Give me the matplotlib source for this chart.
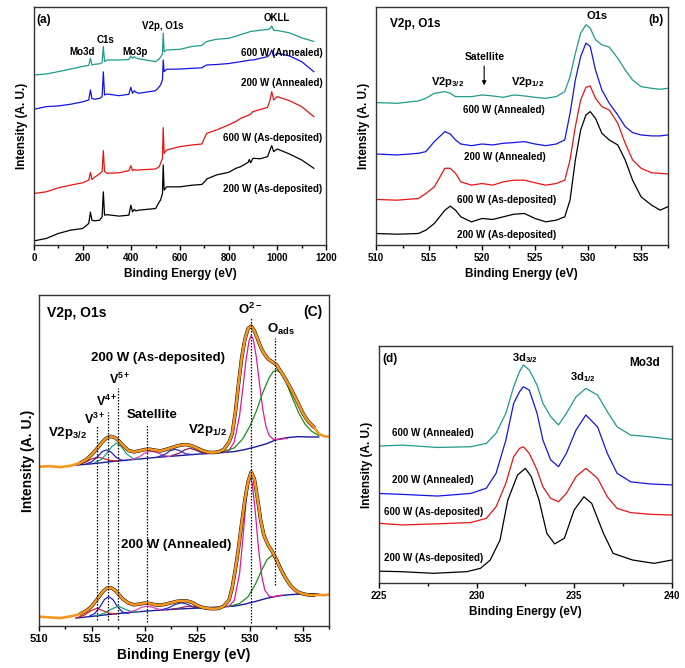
import matplotlib
matplotlib.use('Agg')
import matplotlib.pyplot as plt
from matplotlib.ticker import MultipleLocator
import numpy as np

plt.rcParams['font.family'] = ['Liberation Sans', 'DejaVu Sans']
plt.rcParams['font.weight'] = 'bold'
plt.rcParams['axes.labelweight'] = 'bold'
plt.rcParams['mathtext.fontset'] = 'custom'
plt.rcParams['mathtext.rm'] = 'Liberation Sans:bold'
plt.rcParams['mathtext.it'] = 'Liberation Sans:bold'
plt.rcParams['mathtext.bf'] = 'Liberation Sans:bold'

TEAL = '#1f9a8c'
BLUE = '#1414e6'
RED = '#e61414'
BLACK = '#000000'

# ---- (a) survey spectra (intensity in arbitrary units, 0-100 frame)
survey_ev = [0, 50, 100, 150, 200, 225, 232, 238, 250, 270, 280, 285, 290, 300, 350, 390, 398, 405, 412, 418,
             430, 500, 515, 520, 528, 531, 535, 545, 600, 650, 690, 700, 710, 750, 800, 830, 850, 880, 885, 890,
             900, 930, 960, 970, 977, 985, 1000, 1050, 1100, 1150]
survey_200_asdep = [1.8, 2.8, 4.9, 6.3, 7.0, 9.1, 13.9, 10.5, 10.2, 10.5, 11.9, 22.4, 12.6, 12.8, 12.2, 12.6, 16.8, 14.0, 15.0, 14.4,
                    14.7, 15.4, 18.2, 18.9, 21.7, 33.7, 23.1, 24.5, 24.5, 25.2, 25.5, 26.5, 27.8, 29.5, 30.6, 32.3, 33.0, 34.8, 36.0, 34.6,
                    36.5, 36.3, 37.2, 40.0, 41.8, 39.3, 40.4, 38.3, 35.8, 32.3]
survey_600_asdep = [21.7, 22.4, 24.1, 25.2, 26.2, 27.3, 30.6, 27.6, 28.6, 30.0, 30.9, 39.7, 30.9, 30.2, 30.4, 31.3, 33.4, 31.3, 31.8, 31.5,
                    31.6, 32.0, 33.0, 34.4, 36.5, 49.4, 38.6, 40.0, 41.4, 42.1, 42.5, 44.9, 47.0, 48.4, 50.5, 52.0, 53.3, 54.5, 54.8, 55.0,
                    56.1, 57.0, 57.9, 61.0, 64.5, 61.0, 62.4, 60.7, 58.2, 54.0]
survey_200_ann = [57.1, 58.2, 58.5, 59.2, 60.2, 61.0, 65.2, 61.6, 61.3, 61.7, 62.4, 72.8, 63.1, 63.5, 62.8, 63.4, 66.3, 63.8, 64.9, 64.3,
                  63.8, 64.9, 66.6, 67.3, 69.4, 77.8, 72.9, 73.9, 74.0, 74.3, 74.5, 75.2, 75.7, 75.9, 76.3, 76.8, 77.1, 77.6, 77.7, 77.8,
                  77.8, 78.5, 79.2, 80.2, 82.0, 79.5, 80.7, 79.5, 77.1, 72.9]
survey_600_ann = [71.5, 71.9, 72.9, 74.0, 75.1, 75.5, 78.5, 75.7, 76.0, 76.2, 76.7, 83.5, 77.1, 77.8, 77.8, 78.0, 79.5, 78.5, 79.2, 78.7,
                  78.3, 77.1, 78.3, 79.0, 80.4, 89.1, 81.3, 82.0, 82.3, 83.5, 83.9, 84.9, 85.6, 86.5, 86.9, 87.8, 88.5, 89.4, 89.6, 89.8,
                  89.9, 90.3, 90.6, 91.0, 92.1, 90.3, 90.2, 89.2, 87.1, 85.6]

# ---- (b) V2p / O1s region
vo_ev = [510, 512, 514, 514.7, 515.5, 516.5, 517, 517.5, 518, 519, 520, 521, 522, 523, 524, 525, 526, 527, 527.8,
         528.3, 528.8, 529.3, 529.8, 530.2, 530.7, 531.3, 532, 532.8, 533.5, 534.2, 535, 536, 536.8, 537.5]
vo_200_asdep = [4.9, 4.6, 4.9, 6.3, 9.1, 14.7, 16.4, 14.7, 11.9, 9.8, 11.2, 10.8, 11.9, 13.0, 13.3, 11.2, 9.8, 10.5, 11.9,
                18.9, 35.8, 48.4, 54.7, 56.1, 53.3, 47.0, 44.2, 42.1, 35.8, 27.3, 20.3, 16.8, 14.7, 16.1]
vo_600_asdep = [19.2, 18.9, 19.6, 21.7, 24.5, 32.3, 32.3, 30.2, 26.6, 25.2, 25.9, 25.2, 26.6, 27.3, 27.3, 26.2, 25.2, 25.9, 27.3,
                35.8, 49.8, 61.0, 66.3, 66.9, 61.7, 58.2, 56.8, 51.2, 42.8, 35.8, 32.3, 30.4, 30.2, 29.9]
vo_200_ann = [38.3, 37.9, 38.6, 39.3, 43.5, 47.7, 46.7, 44.2, 42.5, 41.8, 42.5, 42.1, 42.8, 43.1, 43.5, 42.5, 41.8, 42.5, 44.2,
              55.4, 69.4, 79.2, 84.9, 83.5, 73.6, 65.2, 59.6, 54.7, 49.8, 47.3, 46.3, 45.9, 45.9, 46.3]
vo_600_ann = [59.9, 59.6, 60.6, 61.7, 63.8, 64.5, 63.8, 62.4, 62.4, 62.4, 63.1, 62.7, 62.1, 63.1, 62.7, 62.1, 61.7, 62.4, 64.5,
              70.8, 80.6, 89.1, 92.6, 91.2, 86.3, 84.2, 83.2, 78.5, 73.6, 69.4, 66.6, 65.9, 65.5, 65.9]

# ---- (c) fitted V2p / O1s spectra
fit_ev = [510, 511, 512, 513, 513.5, 514, 514.5, 515, 515.5, 516, 516.4, 516.8, 517.2, 517.6, 518, 518.5, 519, 519.5,
          520, 520.5, 521, 521.5, 522, 522.5, 523, 523.5, 524, 524.5, 525, 525.5, 526, 526.5, 527, 527.5, 528,
          528.3, 528.6, 528.9, 529.2, 529.5, 529.8, 530.1, 530.4, 530.7, 531, 531.3, 531.7, 532.1, 532.5, 532.9,
          533.3, 533.7, 534.1, 534.5, 535, 535.5, 536, 536.5, 537, 537.5]
fit_asdep = [48.1, 48.3, 48.0, 48.4, 48.9, 49.4, 50.3, 51.8, 53.6, 55.6, 56.8, 57.3, 56.9, 55.8, 54.4, 53.0, 52.6, 52.9,
             53.3, 53.4, 53.1, 52.9, 53.3, 53.8, 54.3, 54.7, 54.8, 54.4, 53.7, 53.0, 52.5, 52.4, 52.6, 53.3, 55.5,
             58.0, 64.5, 73.0, 81.0, 86.5, 89.9, 90.6, 89.2, 86.8, 84.3, 82.4, 80.7, 79.8, 78.9, 76.9,
             74.9, 72.6, 70.2, 67.6, 64.3, 61.8, 60.2, 58.1, 57.3, 57.2]
fit_ann = [2.8, 2.6, 2.4, 2.9, 3.3, 3.8, 4.6, 6.0, 8.0, 10.2, 11.4, 11.6, 10.8, 9.4, 8.0, 6.9, 6.4, 6.6,
           6.9, 6.8, 6.4, 6.3, 6.6, 7.0, 7.4, 7.6, 7.6, 7.1, 6.2, 5.6, 5.3, 5.2, 5.3, 6.0, 7.8,
           11.5, 17.0, 23.5, 31.0, 38.0, 43.5, 46.5, 44.5, 38.5, 32.0, 27.5, 24.5, 22.5, 20.0, 17.2,
           14.8, 12.8, 11.3, 10.3, 9.7, 9.4, 9.3, 9.4, 9.3, 9.5]

bg_ev = [513.5, 515, 517, 519, 521, 523, 525, 527, 528.5, 529.5, 530.5, 531.5, 532.5, 533.5, 534.5, 535.5, 536.5]
bg_asdep = [48.6, 49.0, 49.7, 50.3, 50.9, 51.4, 51.9, 52.3, 52.7, 53.3, 54.1, 55.0, 56.3, 56.9, 57.2, 57.1, 57.1]
bg_ann = [2.4, 2.9, 3.6, 4.2, 4.7, 5.1, 5.4, 5.7, 6.0, 6.6, 7.4, 8.3, 9.0, 9.4, 9.6, 9.7, 9.7]

# components, as-deposited
o2_asdep_ev = [527.5, 528, 528.5, 529, 529.3, 529.6, 529.9, 530.1, 530.3, 530.6, 530.9, 531.2, 531.5, 531.8, 532.2, 532.6, 533, 533.5]
o2_asdep = [52.4, 53.0, 55.6, 63.5, 71.4, 80.0, 86.2, 87.7, 86.6, 81.0, 72.9, 65.5, 60.3, 57.6, 56.4, 56.3, 56.5, 56.7]
oads_asdep_ev = [527.5, 528.5, 529.3, 530, 530.6, 531.2, 531.8, 532.2, 532.5, 532.9, 533.4, 534, 534.6, 535.2, 535.8, 536.5]
oads_asdep = [52.7, 53.8, 56.5, 60.5, 65.0, 70.5, 75.0, 76.9, 77.3, 76.5, 73.8, 68.9, 64.4, 61.0, 58.9, 57.5]
v3_asdep_ev = [513.8, 514.5, 515, 515.6, 516.2, 516.8, 517.5]
v3_asdep = [48.8, 49.6, 50.5, 51.0, 50.5, 50.0, 49.8]
v4_asdep_ev = [514.5, 515, 515.5, 516, 516.4, 516.8, 517.3, 517.8, 518.3]
v4_asdep = [49.0, 49.6, 51.0, 52.7, 53.2, 52.6, 51.0, 50.1, 50.0]
v5_asdep_ev = [515.3, 515.9, 516.4, 516.9, 517.35, 517.8, 518.3, 518.9, 519.5]
v5_asdep = [49.4, 50.3, 52.0, 54.2, 55.2, 54.2, 52.0, 50.6, 50.3]
sat_asdep_ev = [518.8, 519.5, 520, 520.6, 521.2, 521.8, 522.4]
sat_asdep = [50.3, 51.1, 52.2, 52.8, 52.4, 51.5, 51.2]
p12a_asdep_ev = [521.2, 521.9, 522.4, 522.9, 523.4, 523.9, 524.6]
p12a_asdep = [51.0, 51.8, 52.9, 53.4, 52.9, 52.0, 51.8]
p12b_asdep_ev = [522.6, 523.3, 523.8, 524.3, 524.8, 525.3, 526]
p12b_asdep = [51.5, 52.2, 53.2, 53.7, 53.2, 52.5, 52.1]

# components, annealed
o2_ann_ev = [527.5, 528, 528.5, 529, 529.3, 529.6, 529.8, 530, 530.2, 530.5, 530.8, 531.1, 531.4, 531.8, 532.2, 532.6, 533]
o2_ann = [5.8, 6.0, 7.7, 15.8, 25.8, 37.1, 42.8, 45.0, 43.2, 34.2, 23.3, 15.1, 10.8, 9.0, 8.8, 9.1, 9.3]
oads_ann_ev = [528, 529, 529.8, 530.5, 531.1, 531.6, 532.1, 532.6, 533.1, 533.7, 534.4, 535.2, 536]
oads_ann = [5.9, 6.8, 8.8, 12.6, 16.9, 20.0, 21.4, 20.1, 16.5, 12.5, 10.3, 9.7, 9.7]
v3_ann_ev = [513.6, 514.3, 514.9, 515.45, 516, 516.6, 517.3]
v3_ann = [2.5, 3.3, 4.6, 5.3, 4.7, 3.9, 3.6]
v4_ann_ev = [514.8, 515.3, 515.8, 516.2, 516.6, 517, 517.4, 517.9, 518.5]
v4_ann = [3.0, 3.8, 5.9, 8.0, 8.9, 8.0, 6.0, 4.2, 3.8]
v5_ann_ev = [515.5, 516.2, 516.8, 517.5, 518.2, 518.8, 519.5]
v5_ann = [3.2, 3.8, 5.0, 6.0, 5.0, 4.3, 4.3]
sat_ann_ev = [518.5, 519.2, 519.7, 520.2, 520.8, 521.4, 522.1]
sat_ann = [4.2, 4.8, 5.6, 6.0, 5.6, 5.0, 4.8]
p12a_ann_ev = [521.6, 522.3, 522.9, 523.5, 524.1, 524.7, 525.4]
p12a_ann = [4.9, 5.5, 6.5, 7.0, 6.5, 5.6, 5.4]
p12b_ann_ev = [522.6, 523.3, 523.8, 524.3, 524.8, 525.4, 526]
p12b_ann = [5.1, 5.4, 5.8, 6.0, 5.8, 5.5, 5.5]

# dotted marker lines: position, top, bottom
mark_ev = [515.5, 516.5, 517.45, 520.2, 530.1, 532.35]
mark_top = [60.5, 64.5, 72.0, 61.0, 93.5, 87.0]
mark_bot = [1.8, 1.8, 1.8, 1.3, 0.8, 12.4]

# ---- (d) Mo3d region
mo_ev = [225, 226.2, 228, 229.7, 230.5, 231, 231.5, 231.9, 232.2, 232.4, 232.7, 233.1, 233.4, 233.8, 234.2, 234.6,
         235.1, 235.6, 236.2, 236.7, 237.2, 237.9, 238.9, 240]
mo_600_ann = [57.8, 58.2, 57.2, 57.5, 58.9, 63.2, 71.6, 82.8, 89.2, 92.0, 89.9, 83.5, 75.8, 70.2, 66.7, 71.6,
              78.6, 82.1, 79.3, 72.3, 65.9, 62.4, 61.7, 60.6]
mo_200_ann = [37.8, 37.4, 36.7, 37.8, 40.0, 46.3, 60.3, 75.8, 80.7, 82.8, 81.4, 71.6, 60.3, 51.9, 49.1, 54.7,
              64.6, 70.9, 65.9, 54.7, 46.3, 42.7, 41.8, 41.4]
mo_600_asdep = [25.2, 24.5, 25.0, 25.5, 27.3, 32.2, 42.1, 53.3, 56.8, 57.5, 54.7, 47.7, 40.6, 35.7, 34.3, 37.8,
                44.9, 48.4, 44.2, 36.4, 31.5, 29.7, 29.0, 28.7]
mo_ev_b = [225, 226.1, 227.8, 229.5, 230.2, 230.7, 231.2, 231.6, 232.1, 232.5, 232.8, 233.2, 233.6, 234, 234.5,
           235, 235.5, 235.9, 236.5, 237, 238, 239.1, 240]
mo_200_asdep = [5.0, 4.8, 4.1, 4.8, 6.2, 9.7, 18.1, 35.0, 45.6, 48.4, 44.9, 35.0, 21.0, 16.5, 18.9,
                30.8, 36.4, 33.6, 21.0, 12.5, 9.7, 8.3, 9.7]


def style_axis(ax, xlim, major, minor, tick_fs, label_fs, xpad, ypad):
    ax.set_xlim(*xlim)
    ax.set_ylim(0, 100)
    ax.set_yticks([])
    ax.xaxis.set_major_locator(MultipleLocator(major))
    ax.xaxis.set_minor_locator(MultipleLocator(minor))
    ax.tick_params(axis='x', which='major', direction='out', length=3.5, width=1, labelsize=tick_fs, pad=2)
    ax.tick_params(axis='x', which='minor', direction='out', length=2.5, width=1)
    for lab in ax.get_xticklabels():
        lab.set_fontweight('bold')
    for s in ax.spines.values():
        s.set_linewidth(1.0)
        s.set_color('#333333')
    ax.set_xlabel('Binding Energy (eV)', fontsize=label_fs, labelpad=xpad)
    ax.set_ylabel('Intensity (A. U.)', fontsize=label_fs, labelpad=ypad)


fig = plt.figure(figsize=(6.85, 6.68), dpi=100)

# (a)
ax = fig.add_axes([0.0496, 0.633, 0.4263, 0.3563])
ax.plot(survey_ev, survey_200_asdep, color=BLACK, lw=0.9)
ax.plot(survey_ev, survey_600_asdep, color=RED, lw=0.9)
ax.plot(survey_ev, survey_200_ann, color=BLUE, lw=0.9)
ax.plot(survey_ev, survey_600_ann, color=TEAL, lw=0.9)
style_axis(ax, (0, 1200), 200, 100, 7, 8.5, 4, 4)
ax.text(10, 94.5, '(a)', fontsize=8.5, ha='left', va='center')
ax.text(196, 81, 'Mo3d', fontsize=7, ha='center', va='center')
ax.text(292, 86.3, 'C1s', fontsize=7, ha='center', va='center')
ax.text(415, 81, 'Mo3p', fontsize=7, ha='center', va='center')
ax.text(531, 92, 'V2p, O1s', fontsize=7, ha='center', va='center')
ax.text(997, 95.4, 'OKLL', fontsize=7, ha='center', va='center')
ax.text(1186, 80.6, '600 W (Annealed)', fontsize=7, ha='right', va='center')
ax.text(1186, 68.0, '200 W (Annealed)', fontsize=7, ha='right', va='center')
ax.text(1186, 45.2, '600 W (As-deposited)', fontsize=7, ha='right', va='center')
ax.text(1186, 23.6, '200 W (As-deposited)', fontsize=7, ha='right', va='center')

# (b)
ax = fig.add_axes([0.5489, 0.633, 0.4257, 0.3563])
ax.plot(vo_ev, vo_200_asdep, color=BLACK, lw=0.9)
ax.plot(vo_ev, vo_600_asdep, color=RED, lw=0.9)
ax.plot(vo_ev, vo_200_ann, color=BLUE, lw=0.9)
ax.plot(vo_ev, vo_600_ann, color=TEAL, lw=0.9)
style_axis(ax, (510, 537.5), 5, 2.5, 7, 8.5, 4, 4)
ax.text(511.35, 92.8, 'V2p, O1s', fontsize=8.5, ha='left', va='center')
ax.text(537.1, 94.7, '(b)', fontsize=8.5, ha='right', va='center')
ax.text(530.85, 96.4, 'O1s', fontsize=8, ha='center', va='center')
ax.text(520.3, 79.0, 'Satellite', fontsize=7.5, ha='center', va='center')
ax.annotate('', xy=(520.2, 66.0), xytext=(520.2, 76.4),
            arrowprops=dict(arrowstyle='-|>', color='black', lw=0.8, mutation_scale=6))
ax.text(516.7, 68.7, 'V2p$_{3/2}$', fontsize=8, ha='center', va='center')
ax.text(524.25, 68.7, 'V2p$_{1/2}$', fontsize=8, ha='center', va='center')
ax.text(522.05, 56.8, '600 W (Annealed)', fontsize=7, ha='center', va='center')
ax.text(522.2, 37.2, '200 W (Annealed)', fontsize=7, ha='center', va='center')
ax.text(522.3, 18.9, '600 W (As-deposited)', fontsize=7, ha='center', va='center')
ax.text(522.3, 4.2, '200 W (As-deposited)', fontsize=7, ha='center', va='center')

# (c)
ax = fig.add_axes([0.0569, 0.0629, 0.4238, 0.4955])
fit_ev_arr = np.array(fit_ev)
inner = (fit_ev_arr >= 513.8) & (fit_ev_arr <= 536.3)
for bg_y, comps, spec in [
        (bg_asdep, [(v3_asdep_ev, v3_asdep, '#e02020'), (v4_asdep_ev, v4_asdep, '#2020d8'),
                    (v5_asdep_ev, v5_asdep, '#20a080'), (sat_asdep_ev, sat_asdep, '#e040c0'),
                    (p12a_asdep_ev, p12a_asdep, '#3030c0'), (p12b_asdep_ev, p12b_asdep, '#8a2060'),
                    (o2_asdep_ev, o2_asdep, '#e0189b'), (oads_asdep_ev, oads_asdep, '#1e8c1e')], fit_asdep),
        (bg_ann, [(v3_ann_ev, v3_ann, '#e02020'), (v4_ann_ev, v4_ann, '#2020d8'),
                  (v5_ann_ev, v5_ann, '#20a080'), (sat_ann_ev, sat_ann, '#e040c0'),
                  (p12a_ann_ev, p12a_ann, '#3030c0'), (p12b_ann_ev, p12b_ann, '#8a2060'),
                  (o2_ann_ev, o2_ann, '#e0189b'), (oads_ann_ev, oads_ann, '#1e8c1e')], fit_ann)]:
    ax.plot(bg_ev, bg_y, color='#1a1a9a', lw=1.0)
    for ce, cy, cc in comps:
        ax.plot(ce, cy, color=cc, lw=0.9)
    spec_arr = np.array(spec)
    ax.plot(fit_ev_arr[inner], spec_arr[inner], color=BLACK, lw=2.5)
    ax.plot(fit_ev_arr, spec_arr, color='#f5961e', lw=1.9)
for xe, yt, yb in zip(mark_ev, mark_top, mark_bot):
    ax.plot([xe, xe], [yb, yt], color='black', lw=0.9, ls=(0, (1.2, 1.2)))
style_axis(ax, (510, 537.5), 5, 2.5, 8, 10, 3, 3)
ax.text(510.8, 94.6, 'V2p, O1s', fontsize=10, ha='left', va='center')
ax.text(536.9, 95.0, '(C)', fontsize=10, ha='right', va='center')
ax.text(530.0, 95.6, 'O$^{2\u2212}$', fontsize=9.5, ha='center', va='center')
ax.text(531.6, 89.5, 'O$_{ads}$', fontsize=9.5, ha='left', va='center')
ax.text(521.3, 80.9, '200 W (As-deposited)', fontsize=9.5, ha='center', va='center')
ax.text(517.66, 74.5, 'V$^{5+}$', fontsize=9, ha='center', va='center')
ax.text(516.4, 67.8, 'V$^{4+}$', fontsize=9, ha='center', va='center')
ax.text(515.3, 62.4, 'V$^{3+}$', fontsize=9, ha='center', va='center')
ax.text(520.75, 63.7, 'Satellite', fontsize=9.5, ha='center', va='center')
ax.text(510.9, 58.2, 'V2p$_{3/2}$', fontsize=9.5, ha='left', va='center')
ax.text(524.1, 59.2, 'V2p$_{1/2}$', fontsize=9.5, ha='left', va='center')
ax.text(523.0, 24.5, '200 W (Annealed)', fontsize=9.5, ha='center', va='center')

# (d)
ax = fig.add_axes([0.5533, 0.1272, 0.4273, 0.3548])
ax.plot(mo_ev_b, mo_200_asdep, color=BLACK, lw=0.9)
ax.plot(mo_ev, mo_600_asdep, color=RED, lw=0.9)
ax.plot(mo_ev, mo_200_ann, color=BLUE, lw=0.9)
ax.plot(mo_ev, mo_600_ann, color=TEAL, lw=0.9)
style_axis(ax, (225, 240), 5, 2.5, 7, 8.5, 4, 4)
ax.text(225.15, 94.4, '(d)', fontsize=8.5, ha='left', va='center')
ax.text(239.4, 92.7, 'Mo3d', fontsize=8.5, ha='right', va='center')
ax.text(232.48, 94.8, '3d$_{3/2}$', fontsize=8, ha='center', va='center')
ax.text(235.47, 87.0, '3d$_{1/2}$', fontsize=8, ha='center', va='center')
ax.text(227.78, 63.2, '600 W (Annealed)', fontsize=7, ha='center', va='center')
ax.text(227.78, 43.5, '200 W (Annealed)', fontsize=7, ha='center', va='center')
ax.text(227.78, 29.9, '600 W (As-deposited)', fontsize=7, ha='center', va='center')
ax.text(227.78, 10.4, '200 W (As-deposited)', fontsize=7, ha='center', va='center')

fig.savefig('out.png', dpi=100)
